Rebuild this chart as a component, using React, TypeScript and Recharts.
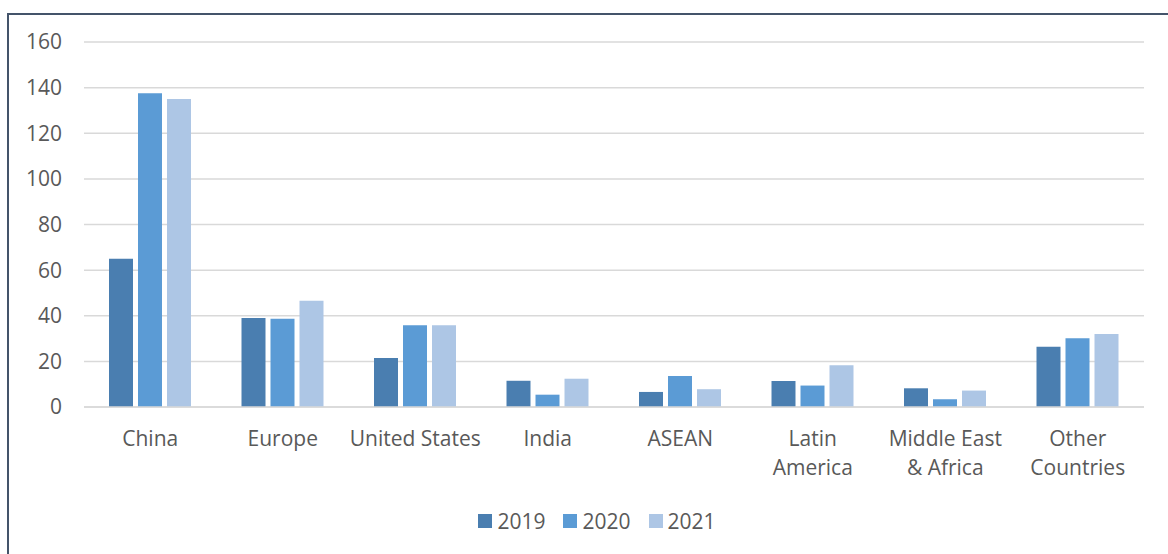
import React from 'react';
import { BarChart, Bar, XAxis, YAxis, CartesianGrid, Legend } from 'recharts';

const regions = [
  'China',
  'Europe',
  'United States',
  'India',
  'ASEAN',
  'Latin\nAmerica',
  'Middle East\n& Africa',
  'Other\nCountries',
];
const values2019 = [65, 39, 21.5, 11.5, 6.6, 11.4, 8.2, 26.4];
const values2020 = [137.5, 38.7, 35.8, 5.4, 13.6, 9.4, 3.4, 30.1];
const values2021 = [135, 46.6, 35.8, 12.4, 7.8, 18.3, 7.2, 32];
const yTicks = [0, 20, 40, 60, 80, 100, 120, 140, 160];

const years = [
  { key: 'y2019', name: '2019', color: '#4A7EB0' },
  { key: 'y2020', name: '2020', color: '#5B9BD5' },
  { key: 'y2021', name: '2021', color: '#ADC6E5' },
];

const data = regions.map((region, i) => ({
  region,
  y2019: values2019[i],
  y2020: values2020[i],
  y2021: values2021[i],
}));

const FONT = '"Open Sans", Lato, sans-serif';
const TEXT = '#595959';
const FS = 21;

const RegionTick = (props: any) => {
  const { x, y, payload } = props;
  const lines = String(payload.value).split('\n');
  return (
    <g transform={`translate(${x},${y})`}>
      {lines.map((line: string, i: number) => (
        <text
          key={i}
          x={0}
          y={i * 29}
          dy={31}
          textAnchor="middle"
          fill={TEXT}
          fontSize={FS}
          fontFamily={FONT}
        >
          {line}
        </text>
      ))}
    </g>
  );
};

const YearLegend = () => (
  <div
    style={{
      height: 26,
      paddingLeft: 50,
      display: 'flex',
      justifyContent: 'center',
      alignItems: 'center',
      fontFamily: FONT,
      fontSize: FS,
      color: TEXT,
    }}
  >
    {years.map((yr) => (
      <span key={yr.key} style={{ display: 'flex', alignItems: 'center', margin: '0 9px' }}>
        <span style={{ width: 14, height: 14, background: yr.color, marginRight: 5, display: 'inline-block' }} />
        {yr.name}
      </span>
    ))}
  </div>
);

export default function App() {
  return (
    <div style={{ position: 'absolute', left: 0, top: 0, width: 1168, height: 554, background: '#fff' }}>
      <div
        style={{
          position: 'absolute',
          left: 7,
          top: 13,
          right: 0,
          bottom: 0,
          borderLeft: '2px solid #44546A',
          borderTop: '2px solid #44546A',
        }}
      />
      <BarChart
        width={1168}
        height={554}
        data={data}
        margin={{ top: 42, right: 24, left: 0, bottom: 20 }}
        barSize={24}
        barGap={5}
        style={{ position: 'absolute', left: 0, top: 0 }}
      >
        <CartesianGrid vertical={false} stroke="#D9D9D9" strokeWidth={1.5} />
        <XAxis
          dataKey="region"
          height={101}
          tickLine={false}
          axisLine={{ stroke: '#D9D9D9', strokeWidth: 1.5 }}
          tick={<RegionTick />}
          interval={0}
        />
        <YAxis
          width={84}
          domain={[0, 160]}
          ticks={yTicks}
          axisLine={false}
          tickLine={false}
          tickSize={0}
          tickMargin={22}
          tick={{ fill: TEXT, fontSize: FS, fontFamily: FONT }}
        />
        <Legend verticalAlign="bottom" content={<YearLegend />} />
        {years.map((yr) => (
          <Bar key={yr.key} dataKey={yr.key} name={yr.name} fill={yr.color} isAnimationActive={false} />
        ))}
      </BarChart>
    </div>
  );
}
